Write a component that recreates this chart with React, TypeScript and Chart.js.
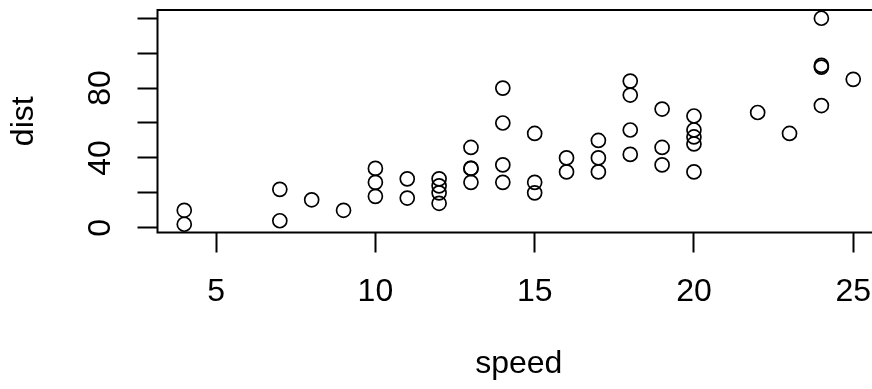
import React, { useEffect, useRef } from "react";
import { Chart, registerables } from "chart.js";

Chart.register(...registerables);

const speed = [4, 4, 7, 7, 8, 9, 10, 10, 10, 11, 11, 12, 12, 12, 12, 13, 13, 13, 13, 14, 14, 14, 14, 15, 15, 15, 16, 16, 17, 17, 17, 18, 18, 18, 18, 19, 19, 19, 20, 20, 20, 20, 20, 22, 23, 24, 24, 24, 24, 25];
const dist = [2, 10, 4, 22, 16, 10, 18, 26, 34, 17, 28, 14, 20, 24, 28, 26, 34, 34, 46, 26, 36, 60, 80, 20, 26, 54, 32, 40, 32, 40, 50, 42, 56, 76, 84, 36, 46, 68, 32, 48, 52, 56, 64, 66, 54, 70, 92, 93, 120, 85];
const xTicks = [5, 10, 15, 20, 25];
const yTicks = [0, 20, 40, 60, 80, 100, 120];
const yTickLabels = [0, 40, 80];
const xTitle = "speed";
const yTitle = "dist";

const FONT = '"Liberation Sans", Arial, Helvetica, sans-serif';
const FS = 32;

const rPlugin = {
  id: "rbox",
  afterDraw(chart: any) {
    const { ctx, chartArea: a, scales } = chart;
    ctx.save();
    ctx.strokeStyle = "#000";
    ctx.lineWidth = 2;
    ctx.strokeRect(a.left, a.top, a.right - a.left, a.bottom - a.top);
    const ys = scales.y;
    ctx.font = `${FS}px ${FONT}`;
    ctx.fillStyle = "#000";
    ctx.textAlign = "center";
    ctx.textBaseline = "middle";
    for (const v of yTickLabels) {
      const py = ys.getPixelForValue(v);
      ctx.save();
      ctx.translate(101, py);
      ctx.rotate(-Math.PI / 2);
      ctx.fillText(String(v), 0, 0);
      ctx.restore();
    }
    ctx.restore();
  },
};

export default function App() {
  const ref = useRef<HTMLCanvasElement | null>(null);
  useEffect(() => {
    if (!ref.current) return;
    const chart = new Chart(ref.current, {
      type: "scatter",
      data: {
        datasets: [
          {
            data: speed.map((s, i) => ({ x: s, y: dist[i] })),
            pointStyle: "circle",
            pointRadius: 7,
            pointBorderWidth: 1.7,
            pointBorderColor: "#000",
            pointBackgroundColor: "rgba(0,0,0,0)",
            pointHoverRadius: 7,
          },
        ],
      },
      options: {
        responsive: false,
        animation: false,
        events: [],
        layout: { padding: { left: 0, right: 20, top: 10, bottom: 0 } },
        plugins: { legend: { display: false }, tooltip: { enabled: false } },
        scales: {
          x: {
            type: "linear",
            min: 3.16,
            max: 25.84,
            afterBuildTicks: (s: any) => {
              s.ticks = xTicks.map((v) => ({ value: v }));
            },
            afterFit: (s: any) => {
              s.height = 156.5;
            },
            border: { display: false },
            grid: { drawOnChartArea: false, drawTicks: true, tickLength: 20, tickWidth: 2, tickColor: "#000" },
            ticks: {
              autoSkip: false,
              maxRotation: 0,
              minRotation: 0,
              padding: 20,
              color: "#000",
              font: { family: FONT, size: FS },
            },
            title: {
              display: true,
              text: xTitle,
              color: "#000",
              font: { family: FONT, size: FS, lineHeight: 1.2 },
              padding: { top: 0, bottom: 5.4 },
            },
          },
          y: {
            type: "linear",
            min: -2.72,
            max: 124.72,
            afterBuildTicks: (s: any) => {
              s.ticks = yTicks.map((v) => ({ value: v }));
            },
            afterFit: (s: any) => {
              s.width = 157.5;
            },
            border: { display: false },
            grid: { drawOnChartArea: false, drawTicks: true, tickLength: 20, tickWidth: 2, tickColor: "#000" },
            ticks: { display: false },
            title: {
              display: true,
              text: yTitle,
              color: "#000",
              font: { family: FONT, size: FS, lineHeight: 1.2 },
              padding: { top: 4.7, bottom: 0 },
            },
          },
        },
      },
      plugins: [rPlugin],
    });
    return () => chart.destroy();
  }, []);
  return (
    <div style={{ position: "fixed", left: 0, top: 0, width: 872, height: 389, overflow: "hidden", background: "#fff" }}>
      <canvas ref={ref} width={900} height={389} style={{ display: "block", width: 900, height: 389 }} />
    </div>
  );
}
